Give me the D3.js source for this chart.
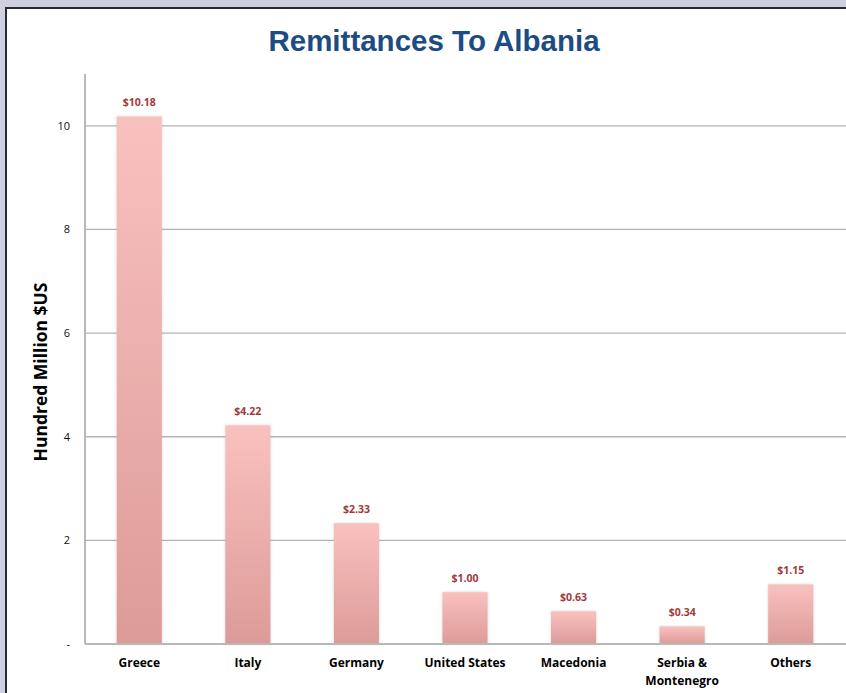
<!DOCTYPE html>
<html>
<head>
<meta charset="utf-8">
<script src="https://cdn.jsdelivr.net/npm/d3@7"></script>
<style>
  html, body { margin: 0; padding: 0; background: #cfd1e1; overflow: hidden; }
  svg { display: block; }
  .tick-label { font-family: "Open Sans", "Noto Sans", sans-serif; font-size: 11px; fill: #111; }
  .cat-label { font-family: "Open Sans", "Noto Sans", sans-serif; font-size: 12px; font-weight: bold; fill: #000; }
  .val-label { font-family: "Open Sans", "Noto Sans", sans-serif; font-size: 10.5px; font-weight: bold; fill: #a13a3c; }
</style>
</head>
<body>
<div id="chart"></div>
<script>
// data
const countries = ["Greece", "Italy", "Germany", "United States", "Macedonia", "Serbia &\nMontenegro", "Others"];
const remittances = [10.18, 4.22, 2.33, 1.00, 0.63, 0.34, 1.15];
const yTicks = [0, 2, 4, 6, 8, 10];

const width = 846, height = 693;
const margin = {top: 74, right: 1, bottom: 49, left: 85};

const svg = d3.select('#chart').append('svg')
    .attr('width', width)
    .attr('height', height);

// window frame (white panel with dark top/left edge)
svg.append('rect')
    .attr('x', 6).attr('y', 8)
    .attr('width', width).attr('height', height)
    .attr('fill', '#fff')
    .attr('stroke', '#2a2a32')
    .attr('stroke-width', 2);

const defs = svg.append('defs');
const grad = defs.append('linearGradient')
    .attr('id', 'barFill')
    .attr('x1', 0).attr('y1', 0).attr('x2', 0).attr('y2', 1);
grad.append('stop').attr('offset', '0%').attr('stop-color', '#f9c1be');
grad.append('stop').attr('offset', '100%').attr('stop-color', '#dc9b99');

const shadow = defs.append('filter').attr('id', 'shadow')
    .attr('x', '-20%').attr('y', '-5%').attr('width', '140%').attr('height', '110%');
shadow.append('feDropShadow')
    .attr('dx', 0).attr('dy', 0).attr('stdDeviation', 1.5)
    .attr('flood-color', '#888').attr('flood-opacity', 0.35);

const x = d3.scaleBand()
    .domain(countries)
    .range([margin.left, width - margin.right])
    .paddingInner(0.585)
    .paddingOuter(0.2925);

const y = d3.scaleLinear()
    .domain([0, 11])
    .range([height - margin.bottom, margin.top]);

// gridlines
svg.append('g')
    .selectAll('line')
    .data(yTicks.filter(d => d > 0))
    .join('line')
    .attr('x1', margin.left)
    .attr('x2', width)
    .attr('y1', d => y(d))
    .attr('y2', d => y(d))
    .attr('stroke', '#b4b4b4')
    .attr('stroke-width', 1.3);

// y tick labels
svg.append('g')
    .selectAll('text')
    .data(yTicks)
    .join('text')
    .attr('class', 'tick-label')
    .attr('x', 70)
    .attr('y', d => y(d))
    .attr('dy', '0.35em')
    .attr('text-anchor', 'end')
    .text(d => d === 0 ? '-' : d);

// bars
svg.append('g')
    .selectAll('rect')
    .data(remittances)
    .join('rect')
    .attr('x', (d, i) => x(countries[i]))
    .attr('width', x.bandwidth())
    .attr('y', d => y(d))
    .attr('height', d => y(0) - y(d))
    .attr('fill', 'url(#barFill)')
    .attr('filter', 'url(#shadow)');

// axes lines
svg.append('line')
    .attr('x1', margin.left).attr('x2', margin.left)
    .attr('y1', y(11)).attr('y2', y(0))
    .attr('stroke', '#b8b8b8').attr('stroke-width', 2);
svg.append('line')
    .attr('x1', margin.left).attr('x2', width)
    .attr('y1', y(0)).attr('y2', y(0))
    .attr('stroke', '#b8b8b8').attr('stroke-width', 2);

// value labels
svg.append('g')
    .selectAll('text')
    .data(remittances)
    .join('text')
    .attr('class', 'val-label')
    .attr('x', (d, i) => x(countries[i]) + x.bandwidth() / 2)
    .attr('y', d => y(d) - 10)
    .attr('text-anchor', 'middle')
    .text(d => '$' + d.toFixed(2));

// category labels
svg.append('g')
    .selectAll('text')
    .data(countries)
    .join('text')
    .attr('class', 'cat-label')
    .attr('text-anchor', 'middle')
    .attr('transform', d => `translate(${x(d) + x.bandwidth() / 2},667)`)
    .selectAll('tspan')
    .data(d => d.split('\n'))
    .join('tspan')
    .attr('x', 0)
    .attr('dy', (d, i) => i === 0 ? 0 : 18)
    .text(d => d);

// y title
svg.append('text')
    .attr('transform', 'translate(47,372) rotate(-90)')
    .attr('text-anchor', 'middle')
    .style('font-family', '"Open Sans", "Noto Sans", sans-serif')
    .style('font-size', '17.5px')
    .style('font-weight', 'bold')
    .text('Hundred Million $US');

// title
svg.append('text')
    .attr('x', 434)
    .attr('y', 51)
    .attr('text-anchor', 'middle')
    .style('font-family', '"Liberation Sans", Arial, sans-serif')
    .style('font-size', '29.5px')
    .style('font-weight', 'bold')
    .style('fill', '#1d4c82')
    .text('Remittances To Albania');
</script>
</body>
</html>
